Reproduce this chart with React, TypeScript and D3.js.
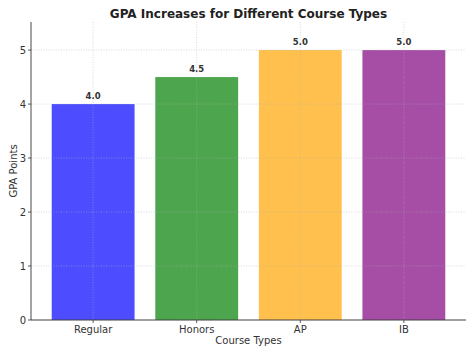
import React from "react";
import * as d3 from "d3";

const categories = ["Regular", "Honors", "AP", "IB"];
const values = [4.0, 4.5, 5.0, 5.0];
const colors = ["#4d4dff", "#4da64d", "#ffc04d", "#a64da6"];
const yTicks = [0, 1, 2, 3, 4, 5];

const W = 474, H = 355;
const left = 31, right = 466, top = 22, bottom = 320;

export default function App() {
  const x = d3.scaleLinear().domain([-0.6, categories.length - 0.4]).range([left, right]);
  const y = d3.scaleLinear().domain([0, 5.52]).range([bottom, top]);
  const bw = x(0.4) - x(0);
  const font = "DejaVu Sans, sans-serif";
  return (
    <svg width={W} height={H} style={{ position: "absolute", left: 0, top: 0 }} fontFamily={font}>
      <rect width={W} height={H} fill="white" />
      {categories.map((c, i) => (
        <rect key={c} x={x(i) - bw} y={y(values[i])} width={bw * 2} height={y(0) - y(values[i])} fill={colors[i]} />
      ))}
      {yTicks.map((t) => (
        <line key={"gy" + t} x1={left} x2={right} y1={y(t)} y2={y(t)} stroke="#b0b0b0" strokeOpacity={0.6} strokeWidth={0.8} strokeDasharray="1,1.5" />
      ))}
      {categories.map((c, i) => (
        <line key={"gx" + c} x1={x(i)} x2={x(i)} y1={top} y2={bottom} stroke="#b0b0b0" strokeOpacity={0.6} strokeWidth={0.8} strokeDasharray="1,1.5" />
      ))}
      {categories.map((c, i) => (
        <text key={"v" + c} x={x(i)} y={y(values[i]) - 5} textAnchor="middle" fontSize={8.5} fontWeight="bold" fill="#333">
          {values[i].toFixed(1)}
        </text>
      ))}
      <line x1={left} x2={left} y1={top} y2={bottom} stroke="#333" strokeWidth={0.9} />
      <line x1={left} x2={right} y1={bottom} y2={bottom} stroke="#333" strokeWidth={0.9} />
      {yTicks.map((t) => (
        <g key={"ty" + t}>
          <line x1={left - 3} x2={left} y1={y(t)} y2={y(t)} stroke="#333" strokeWidth={0.8} />
          <text x={left - 5} y={y(t)} dy="0.35em" textAnchor="end" fontSize={10} fill="#333">{t}</text>
        </g>
      ))}
      {categories.map((c, i) => (
        <g key={"tx" + c}>
          <line x1={x(i)} x2={x(i)} y1={bottom} y2={bottom + 3} stroke="#333" strokeWidth={0.8} />
          <text x={x(i)} y={bottom + 13} dy="0.0em" textAnchor="middle" fontSize={10} fill="#333">{c}</text>
        </g>
      ))}
      <text x={(left + right) / 2} y={344} textAnchor="middle" fontSize={10} fill="#333">Course Types</text>
      <text transform={`translate(17,${(top + bottom) / 2}) rotate(-90)`} textAnchor="middle" fontSize={10} fill="#333">GPA Points</text>
      <text x={(left + right) / 2} y={18} textAnchor="middle" fontSize={12} fontWeight="bold" fill="#222">GPA Increases for Different Course Types</text>
    </svg>
  );
}
